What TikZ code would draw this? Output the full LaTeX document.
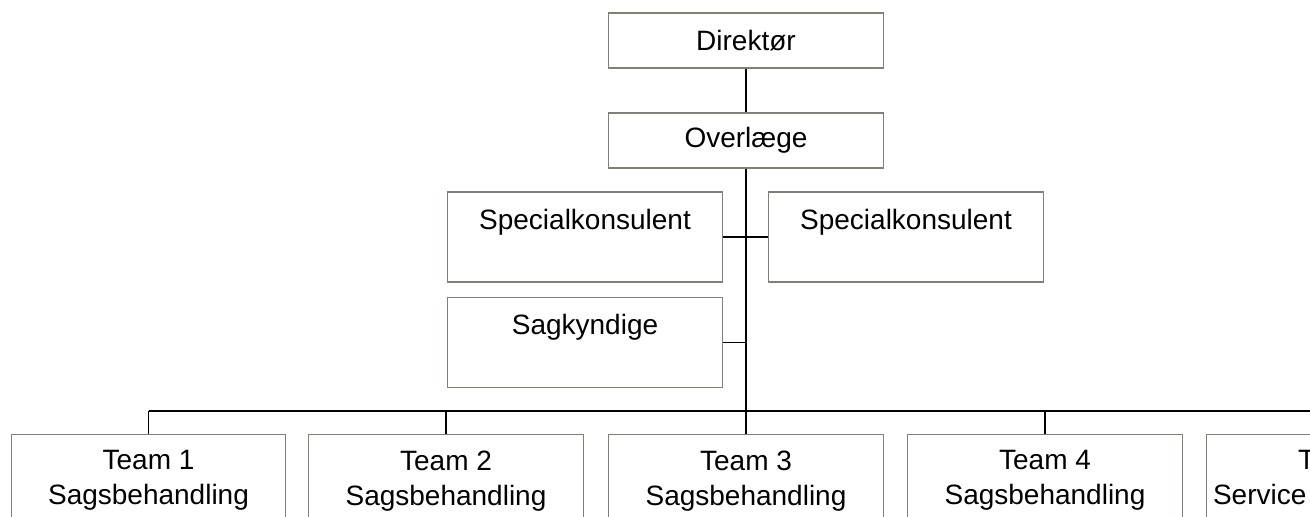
\documentclass[tikz,border=0pt]{standalone}
\usepackage{fontspec}
\setmainfont{Liberation Sans}
\usetikzlibrary{positioning}
\definecolor{boxgray}{RGB}{128,128,116}

\tikzset{
	orgbox/.style={draw=boxgray, line width=0.8pt, fill=white, minimum width=206pt, inner sep=0pt, font=\fontsize{21}{26.25}\selectfont},
	headbox/.style={orgbox, minimum height=41.25pt},
	staffbox/.style={orgbox, text height=28pt, text depth=39.5pt},
	teambox/.style={orgbox, align=center, anchor=north, inner ysep=12pt},
	link/.style={line width=1.1pt, black}
}

\begin{document}
\begin{tikzpicture}[x=0.75pt,y=-0.75pt]

%page size (cut off at the right and at the bottom)
\useasboundingbox (0,0) rectangle (1310,517);
\clip (0,0) rectangle (1310,517);

%top boxes
\node[headbox] (dir)  at (746,40.5)  {Direktør};
\node[headbox] (over) at (746,140.5) {Overlæge};

%staff boxes
\node[staffbox] (spec1) at (585,237)   {Specialkonsulent};
\node[staffbox] (spec2) at (906,237)   {Specialkonsulent};
\node[staffbox] (sag)   at (585,342.5) {Sagkyndige};

%teams
\foreach \i/\x in {1/148.5,2/446,3/746,4/1045}
	\node[teambox] (team\i) at (\x,434) {Team \i\\Sagsbehandling};
\node[teambox] (team5) at (1344,434) {Team 5\\\makebox[196.5pt][l]{Service}};

\coordinate (bus) at (0,411);	%height of the team line

%lines
\draw[link] (dir) -- (over);
\draw[link] (over.south) -- (team3.north);
\draw[link] (spec1.east) -- (spec2.west);
\draw[link] (sag.east) -- (sag.east -| over.south);
\draw[link] (team1.north |- bus) -- (team5.north |- bus);
\foreach \i in {1,2,4,5}
	\draw[link] (team\i.north |- bus) -- (team\i.north);

\end{tikzpicture}
\end{document}
